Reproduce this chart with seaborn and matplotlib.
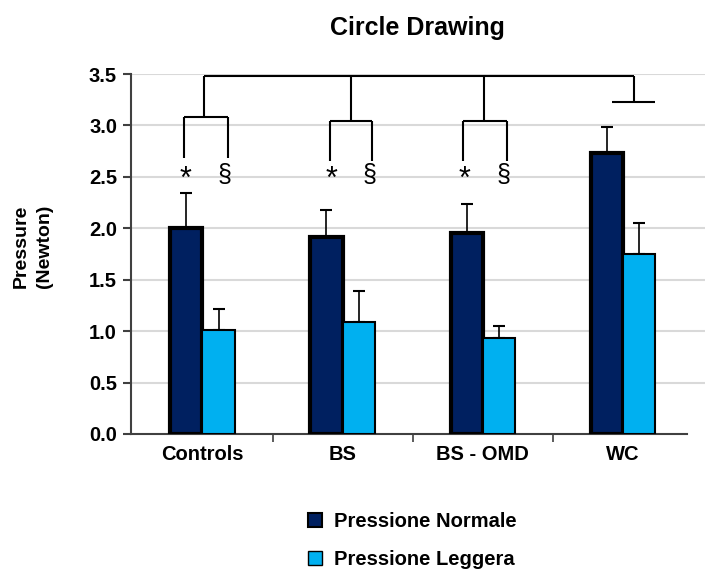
import pandas as pd
import numpy as np
import matplotlib.pyplot as plt
import seaborn as sns
from matplotlib.patches import Patch

# data
groups = ['Controls', 'BS', 'BS - OMD', 'WC']
series = ['Pressione Normale', 'Pressione Leggera']
normale = [2.00, 1.92, 1.95, 2.73]
normale_err = [0.34, 0.26, 0.29, 0.25]
leggera = [1.01, 1.09, 0.93, 1.75]
leggera_err = [0.21, 0.30, 0.12, 0.30]
colors = ['#002060', '#00B0F0']

DT = pd.DataFrame({
    'group': groups * 2,
    'series': [series[0]] * 4 + [series[1]] * 4,
    'value': normale + leggera,
    'err': normale_err + leggera_err,
})

sns.set_style('white')
plt.rcParams['font.family'] = ['Liberation Sans', 'DejaVu Sans']
for key in ['text.color', 'axes.labelcolor', 'xtick.color', 'ytick.color']:
    plt.rcParams[key] = 'black'

fig = plt.figure(figsize=(7.19, 5.72), dpi=100)
ax = fig.add_axes([0.1822, 0.2413, 0.7983, 0.6293])

for y in np.arange(0.5, 3.51, 0.5):
    ax.axhline(y, color='#d9d9d9', lw=1.5, zorder=0)

sns.barplot(data=DT, x='group', y='value', hue='series', palette=colors,
            width=0.46, order=groups, hue_order=series, errorbar=None,
            saturation=1, legend=False, ax=ax, zorder=2)

# edges and upper-only error bars
bars = ax.patches
for i, b in enumerate(bars):
    dark = i < len(groups)
    b.set_edgecolor('black')
    b.set_linewidth(3 if dark else 1.5)
    b.set_zorder(3)
    x = b.get_x() + b.get_width() / 2
    h = b.get_height()
    e = DT['err'].iloc[i]
    ax.errorbar(x, h, yerr=[[0], [e]], fmt='none', ecolor='black',
                elinewidth=1.2, capsize=4, capthick=1.5, zorder=1)

# significance brackets
k = dict(color='black', lw=1.5, zorder=4, solid_capstyle='butt')
ax.plot([0.01, 3.08], [3.48, 3.48], **k)
ax.plot([3.08, 3.08], [3.48, 3.23], **k)
ax.plot([2.92, 3.23], [3.23, 3.23], **k)
brackets = [(0, 0.01, -0.13, 0.18, 3.08, 2.68),
            (1, 0.06, -0.09, 0.21, 3.04, 2.65),
            (2, 0.01, -0.14, 0.17, 3.04, 2.65)]
for g, v, l, r, top, leg in brackets:
    ax.plot([g + v, g + v], [3.48, top], **k)
    ax.plot([g + l, g + r], [top, top], **k)
    ax.plot([g + l, g + l], [top, leg], **k)
    ax.plot([g + r, g + r], [top, leg], **k)
    ax.text(g + l + 0.01, 2.47, '*', ha='center', va='center', fontsize=22)
    ax.text(g + r - 0.02, 2.52, '§', ha='center', va='center', fontsize=18)

ax.set_ylim(0, 3.5)
ax.set_xlim(-0.51, 3.586)
ax.set_yticks(np.arange(0, 3.51, 0.5))
ax.set_yticklabels([f'{v:.1f}' for v in np.arange(0, 3.51, 0.5)],
                   fontsize=14.5, fontweight='bold')
ax.set_xticks(range(4))
ax.set_xticklabels(groups, fontsize=14.5, fontweight='bold')
ax.set_xticks([0.5, 1.5, 2.5], minor=True)
ax.tick_params(axis='x', which='major', length=0, pad=8)
ax.tick_params(axis='x', which='minor', length=6, width=1.2, color='#404040',
               direction='out', bottom=True)
ax.tick_params(axis='y', length=6, width=1.5, color='#404040',
               direction='out', left=True, pad=4)
ax.set_xlabel('')
ax.set_ylabel('Pressure\n(Newton)', fontsize=14, fontweight='bold',
              linespacing=1.5)
ax.yaxis.set_label_coords(-0.136, 0.52)

for s in ['top', 'right']:
    ax.spines[s].set_visible(False)
ax.spines['left'].set_color('#404040')
ax.spines['left'].set_linewidth(1.5)
ax.spines['bottom'].set_color('#404040')
ax.spines['bottom'].set_linewidth(1.5)
ax.spines['bottom'].set_bounds(-0.51, 3.46)

fig.text(0.581, 0.951, 'Circle Drawing', ha='center', va='center',
         fontsize=18, fontweight='bold')

handles = [Patch(facecolor=colors[0], edgecolor='black', lw=1.5),
           Patch(facecolor=colors[1], edgecolor='black', lw=1.0)]
fig.legend(handles, series, loc='center left', bbox_to_anchor=(0.4284, 0.055),
           frameon=False, prop={'size': 14.5, 'weight': 'bold'},
           borderpad=0, borderaxespad=0,
           handlelength=0.7, handleheight=0.7, handletextpad=0.6,
           labelspacing=0.95)

plt.savefig('out.png', dpi=100)
